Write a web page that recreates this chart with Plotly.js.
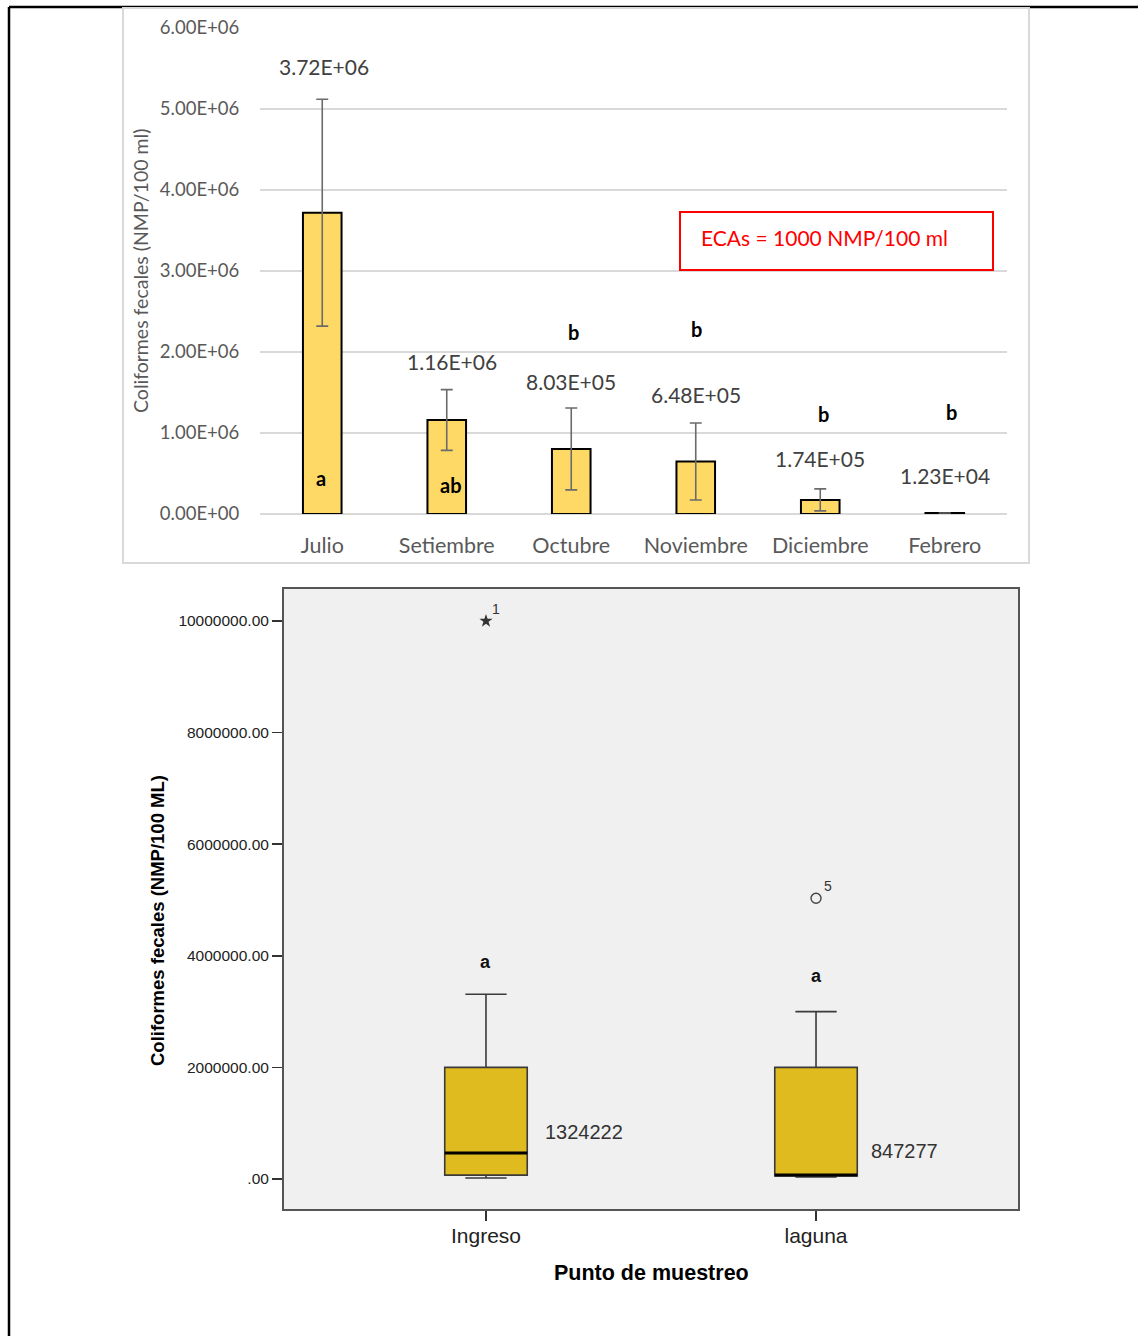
<!DOCTYPE html>
<html>
<head>
<meta charset="utf-8">
<script src="https://cdn.plot.ly/plotly-3.0.1.min.js"></script>
<style>
  html, body { margin: 0; padding: 0; background: #ffffff; }
  #fig { width: 1138px; height: 1336px; }
</style>
</head>
<body>
<div id="fig"></div>
<script>
// ---- Panel superior: coliformes fecales por mes (media ± error) ----
const meses = ['Julio', 'Setiembre', 'Octubre', 'Noviembre', 'Diciembre', 'Febrero'];
const mediasMes = [3.72e6, 1.16e6, 8.03e5, 6.48e5, 1.74e5, 1.23e4];
const erroresMes = [1.40e6, 0.375e6, 0.505e6, 0.475e6, 0.136e6, 0];
const letrasMes = ['a', 'ab', 'b', 'b', 'b', 'b'];
const ticksMes = [0, 1e6, 2e6, 3e6, 4e6, 5e6, 6e6];
const limiteECA = 'ECAs = 1000 NMP/100 ml';

// ---- Panel inferior: diagrama de cajas por punto de muestreo ----
const puntos = ['Ingreso', 'laguna'];
const cajaQ1 = [0.07e6, 0.054e6];
const cajaMediana = [0.465e6, 0.07e6];
const cajaQ3 = [2.0e6, 2.0e6];
const cajaMin = [0.018e6, 0.036e6];
const cajaMax = [3.31e6, 3.0e6];
const atipicoValor = [1.0e7, 5.03e6];
const atipicoCaso = [1, 5];
const promediosPunto = [1324222, 847277];
const letrasPunto = ['a', 'a'];
const ticksPunto = [0, 2e6, 4e6, 6e6, 8e6, 1e7];

// ---- helpers ----
const W = 1138, H = 1336;
const px = x => x / W;
const py = y => 1 - y / H;
function sci(v) {
  const parts = v.toExponential(2).split('e');
  const n = parseInt(parts[1], 10);
  return parts[0] + 'E' + (n < 0 ? '-' : '+') + String(Math.abs(n)).padStart(2, '0');
}
function fixed(v) {
  return v === 0 ? '.00' : v.toFixed(2);
}

const fontTop = 'Lato, "Open Sans", sans-serif';
const fontBot = '"Liberation Sans", Arial, sans-serif';
const grisTexto = '#595959';
const anchoCaja = 0.25;

// Label placement for the monthly panel
const etiquetaValorY = [5.52e6, 1.877e6, 1.63e6, 1.47e6, 0.69e6, 0.48e6];
const etiquetaValorDx = [2, 5, 0, 0, 0, 0];
const letraY = [0.444e6, 0.358e6, 2.247e6, 2.284e6, 1.235e6, 1.259e6];
const letraDx = [-1, 4, 2, 1, 3, 7];

const barras = {
  type: 'bar',
  x: meses,
  y: mediasMes,
  xaxis: 'x', yaxis: 'y',
  width: 0.31,
  marker: { color: '#FFD966', line: { color: '#000000', width: 2 } },
  error_y: { type: 'data', array: erroresMes, visible: true, color: '#6b6b6b', thickness: 1.6, width: 6 },
  hoverinfo: 'x+y',
  showlegend: false
};

const cajas = {
  type: 'box',
  x: puntos,
  q1: cajaQ1,
  median: cajaMediana,
  q3: cajaQ3,
  lowerfence: cajaMin,
  upperfence: cajaMax,
  xaxis: 'x2', yaxis: 'y2',
  width: anchoCaja,
  whiskerwidth: 0.5,
  boxpoints: false,
  fillcolor: '#DFBB1F',
  line: { color: '#3a3a3a', width: 1.6 },
  showlegend: false
};

const atipicoEstrella = {
  type: 'scatter', mode: 'markers',
  x: [puntos[0]], y: [atipicoValor[0]],
  xaxis: 'x2', yaxis: 'y2',
  marker: { symbol: 'star', size: 10, color: '#333333' },
  showlegend: false
};
const atipicoCirculo = {
  type: 'scatter', mode: 'markers',
  x: [puntos[1]], y: [atipicoValor[1]],
  xaxis: 'x2', yaxis: 'y2',
  marker: { symbol: 'circle-open', size: 10, color: '#444444', line: { width: 1.4 } },
  showlegend: false
};

const anotaciones = [];

// value labels and significance letters over the monthly bars
meses.forEach((m, i) => {
  anotaciones.push({
    xref: 'x', yref: 'y', x: m, y: etiquetaValorY[i], xshift: etiquetaValorDx[i],
    text: sci(mediasMes[i]), showarrow: false,
    font: { family: fontTop, size: 21, color: '#404040' }
  });
  anotaciones.push({
    xref: 'x', yref: 'y', x: m, y: letraY[i], xshift: letraDx[i],
    text: '<b>' + letrasMes[i] + '</b>', showarrow: false,
    font: { family: fontTop, size: 20, color: '#000000' }
  });
});

// red reference note
anotaciones.push({
  xref: 'paper', yref: 'paper', x: px(699), y: py(238), xanchor: 'left', yanchor: 'middle',
  text: limiteECA, showarrow: false,
  font: { family: fontTop, size: 21, color: '#FF0000' }
});

// y-axis title of the monthly panel
anotaciones.push({
  xref: 'paper', yref: 'paper', x: px(140), y: py(271), xanchor: 'center', yanchor: 'middle',
  text: 'Coliformes fecales (NMP/100 ml)', textangle: -90, showarrow: false,
  font: { family: fontTop, size: 19.5, color: grisTexto }
});

// box panel labels
const promedioDx = [98, 88];
const promedioY = [0.84e6, 0.50e6];
const letraCajaY = [3.886e6, 3.635e6];
puntos.forEach((p, i) => {
  anotaciones.push({
    xref: 'x2', yref: 'y2', x: p, y: promedioY[i], xshift: promedioDx[i],
    text: String(promediosPunto[i]), showarrow: false,
    font: { family: fontBot, size: 20, color: '#333333' }
  });
  anotaciones.push({
    xref: 'x2', yref: 'y2', x: p, y: letraCajaY[i],
    text: '<b>' + letrasPunto[i] + '</b>', showarrow: false,
    font: { family: fontBot, size: 18, color: '#111111' }
  });
  anotaciones.push({
    xref: 'x2', yref: 'y2', x: p, y: atipicoValor[i], xshift: i === 0 ? 10 : 12, yshift: 12,
    text: String(atipicoCaso[i]), showarrow: false,
    font: { family: fontBot, size: 14, color: '#333333' }
  });
});

anotaciones.push({
  xref: 'paper', yref: 'paper', x: px(157), y: py(921), xanchor: 'center', yanchor: 'middle',
  text: '<b>Coliformes fecales (NMP/100 ML)</b>', textangle: -90, showarrow: false,
  font: { family: fontBot, size: 18.5, color: '#000000' }
});
anotaciones.push({
  xref: 'paper', yref: 'paper', x: px(651), y: py(1273), xanchor: 'center', yanchor: 'middle',
  text: '<b>Punto de muestreo</b>', showarrow: false,
  font: { family: fontBot, size: 21.5, color: '#000000' }
});

const formas = [
  // page frame
  { type: 'line', xref: 'paper', yref: 'paper', x0: px(9), x1: 1, y0: py(7), y1: py(7), line: { color: '#000000', width: 2.5 } },
  { type: 'line', xref: 'paper', yref: 'paper', x0: px(9), x1: px(9), y0: py(7), y1: 0, line: { color: '#000000', width: 2.5 } },
  // monthly chart border
  { type: 'rect', xref: 'paper', yref: 'paper', x0: px(123), x1: px(1029), y0: py(563), y1: py(8), line: { color: '#D9D9D9', width: 2 } },
  // red note box
  { type: 'rect', xref: 'paper', yref: 'paper', x0: px(680), x1: px(993), y0: py(270), y1: py(212), line: { color: '#FF0000', width: 2 }, fillcolor: 'rgba(255,255,255,1)' },
  // box panel background
  { type: 'rect', xref: 'x2 domain', yref: 'y2 domain', x0: 0, x1: 1, y0: 0, y1: 1, layer: 'below', line: { width: 0 }, fillcolor: '#F0F0F0' }
];

// heavy median strokes, taken from the median values
cajaMediana.forEach((m, i) => {
  formas.push({
    type: 'line', xref: 'x2', yref: 'y2',
    x0: i - anchoCaja / 2, x1: i + anchoCaja / 2, y0: m, y1: m,
    line: { color: '#000000', width: 3 }
  });
});

const layout = {
  width: W, height: H,
  margin: { l: 0, r: 0, t: 0, b: 0 },
  paper_bgcolor: '#ffffff',
  plot_bgcolor: 'rgba(0,0,0,0)',
  showlegend: false,
  xaxis: {
    domain: [px(260), px(1007)],
    anchor: 'y',
    type: 'category',
    showline: false, showgrid: false, zeroline: false,
    ticks: 'outside', ticklen: 12, tickcolor: 'rgba(0,0,0,0)',
    tickfont: { family: fontTop, size: 21.5, color: grisTexto },
    fixedrange: true
  },
  yaxis: {
    domain: [py(514), py(28)],
    anchor: 'x',
    range: [0, 6e6],
    tickmode: 'array', tickvals: ticksMes, ticktext: ticksMes.map(sci),
    showgrid: true, gridcolor: '#D9D9D9', gridwidth: 1.5,
    zeroline: true, zerolinecolor: '#D9D9D9', zerolinewidth: 1.5,
    showline: false,
    ticks: 'outside', ticklen: 16, tickcolor: 'rgba(0,0,0,0)',
    tickfont: { family: fontTop, size: 18.5, color: grisTexto },
    fixedrange: true
  },
  xaxis2: {
    domain: [px(284), px(1018)],
    anchor: 'y2',
    type: 'category',
    range: [-0.612, 1.612],
    showline: true, mirror: true, linecolor: '#555555', linewidth: 2,
    showgrid: false, zeroline: false,
    ticks: 'outside', ticklen: 10, tickwidth: 1.5, tickcolor: '#333333',
    ticklabelstandoff: -3,
    tickfont: { family: fontBot, size: 21, color: '#222222' },
    fixedrange: true
  },
  yaxis2: {
    domain: [py(1209), py(589)],
    anchor: 'x2',
    range: [-0.5376e6, 10.573e6],
    tickmode: 'array', tickvals: ticksPunto, ticktext: ticksPunto.map(fixed),
    showline: true, mirror: true, linecolor: '#555555', linewidth: 2,
    showgrid: false, zeroline: false,
    ticks: 'outside', ticklen: 10, tickwidth: 1.5, tickcolor: '#333333',
    tickfont: { family: fontBot, size: 15.5, color: '#222222' },
    fixedrange: true
  },
  annotations: anotaciones,
  shapes: formas
};

Plotly.newPlot('fig', [barras, cajas, atipicoEstrella, atipicoCirculo], layout, { displayModeBar: false, staticPlot: true });
</script>
</body>
</html>
